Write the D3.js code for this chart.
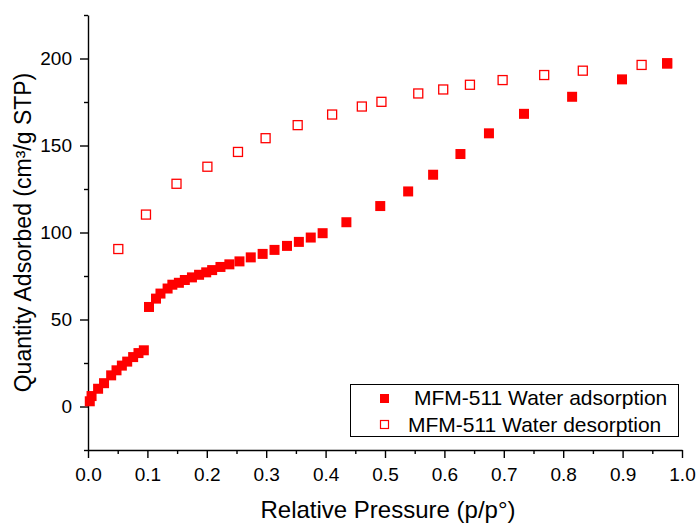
<!DOCTYPE html>
<html>
<head>
<meta charset="utf-8">
<script src="https://cdn.jsdelivr.net/npm/d3@7"></script>
<style>
  body { margin: 0; background: #fff; }
  text { font-family: "Liberation Sans", Arial, sans-serif; fill: #000; }
</style>
</head>
<body>
<div id="plot"></div>
<script>
// Adsorption branch (filled squares)
const adsP = [0.003, 0.006, 0.017, 0.027, 0.039, 0.048, 0.057, 0.066, 0.076, 0.085, 0.094,
  0.1027, 0.1145, 0.122, 0.134, 0.142, 0.153, 0.163, 0.175, 0.187, 0.199, 0.209, 0.223, 0.238,
  0.255, 0.274, 0.294, 0.314, 0.335, 0.355, 0.375, 0.395, 0.435, 0.492, 0.539, 0.581, 0.627,
  0.675, 0.734, 0.815, 0.899, 0.975];
const adsQ = [3, 6, 10.2, 13.4, 17.9, 20.8, 23.5, 25.8, 28.4, 30.7, 32.3,
  57.2, 62.0, 64.9, 67.8, 70.0, 71.1, 72.7, 74.2, 75.7, 77.1, 78.4, 80.2, 81.7,
  83.4, 85.7, 87.7, 90.0, 92.3, 94.6, 97.1, 99.6, 105.9, 115.2, 123.6, 133.2, 145.1,
  157.0, 168.2, 178.0, 188.0, 197.2];

// Desorption branch (open squares)
const desP = [0.975, 0.932, 0.833, 0.768, 0.698, 0.643, 0.598, 0.556, 0.494, 0.461, 0.411,
  0.353, 0.299, 0.2525, 0.201, 0.149, 0.0976, 0.051];
const desQ = [197.2, 196.3, 193.0, 190.5, 187.6, 184.9, 182.2, 179.9, 175.1, 172.4, 167.8,
  161.7, 154.2, 146.3, 137.8, 128.0, 110.3, 90.5];

const xTicks = [0, 0.1, 0.2, 0.3, 0.4, 0.5, 0.6, 0.7, 0.8, 0.9, 1.0];
const yTicks = [0, 50, 100, 150, 200];
const seriesNames = ["MFM-511 Water adsorption", "MFM-511 Water desorption"];

const width = 697;
const height = 523;
const marginTop = 15;
const marginRight = 15;
const marginBottom = 73;
const marginLeft = 88;

const x = d3.scaleLinear()
    .domain([0, 1])
    .range([marginLeft, width - marginRight]);

const y = d3.scaleLinear()
    .domain([-25, 225])
    .range([height - marginBottom, marginTop]);

const svg = d3.select("#plot")
    .append("svg")
    .attr("width", width)
    .attr("height", height)
    .attr("viewBox", [0, 0, width, height]);

// Bottom axis, major + minor ticks
const xMinor = d3.range(0.05, 1, 0.1);
svg.append("g")
    .attr("transform", `translate(0,${height - marginBottom})`)
    .call(d3.axisBottom(x).tickValues(xMinor).tickSize(4).tickFormat(""))
    .call(g => g.select(".domain").remove());
const xAxis = svg.append("g")
    .attr("transform", `translate(0,${height - marginBottom})`)
    .call(d3.axisBottom(x).tickValues(xTicks).tickSize(8).tickSizeOuter(0)
        .tickPadding(10).tickFormat(d3.format(".1f")));
xAxis.selectAll("text").style("font-size", "19px");

// Left axis
const yMinor = [-25, 25, 75, 125, 175, 225];
svg.append("g")
    .attr("transform", `translate(${marginLeft},0)`)
    .call(d3.axisLeft(y).tickValues(yMinor).tickSize(4).tickFormat(""))
    .call(g => g.select(".domain").remove());
const yAxis = svg.append("g")
    .attr("transform", `translate(${marginLeft},0)`)
    .call(d3.axisLeft(y).tickValues(yTicks).tickSize(8).tickSizeOuter(0).tickPadding(8));
yAxis.selectAll("text").style("font-size", "19px");

svg.selectAll(".domain, .tick line").attr("stroke", "#000").attr("stroke-width", 1.4);

// Axis titles
svg.append("text")
    .attr("x", 388)
    .attr("y", 518)
    .attr("text-anchor", "middle")
    .style("font-size", "24px")
    .text("Relative Pressure (p/p°)");

svg.append("text")
    .attr("transform", `translate(31,${(marginTop + height - marginBottom) / 2}) rotate(-90)`)
    .attr("text-anchor", "middle")
    .style("font-size", "23px")
    .text("Quantity Adsorbed (cm³/g STP)");

// Points
const ads = adsP.map((p, i) => [p, adsQ[i]]);
const des = desP.map((p, i) => [p, desQ[i]]);

svg.append("g")
    .selectAll("rect")
    .data(des)
    .join("rect")
    .attr("x", d => x(d[0]) - 4.5)
    .attr("y", d => y(d[1]) - 4.5)
    .attr("width", 9)
    .attr("height", 9)
    .attr("fill", "#fff")
    .attr("stroke", "#ff0000")
    .attr("stroke-width", 1.3);

svg.append("g")
    .selectAll("rect")
    .data(ads)
    .join("rect")
    .attr("x", d => x(d[0]) - 5)
    .attr("y", d => y(d[1]) - 5)
    .attr("width", 10)
    .attr("height", 10)
    .attr("fill", "#ff0000");

// Legend
const legend = svg.append("g");
legend.append("rect")
    .attr("x", 350.5)
    .attr("y", 384.5)
    .attr("width", 328)
    .attr("height", 52)
    .attr("fill", "#fff")
    .attr("stroke", "#000")
    .attr("stroke-width", 1);

legend.append("rect")
    .attr("x", 380).attr("y", 394).attr("width", 9).attr("height", 9)
    .attr("fill", "#ff0000");
legend.append("text")
    .attr("x", 414).attr("y", 405)
    .style("font-size", "21px")
    .text(seriesNames[0]);

legend.append("rect")
    .attr("x", 380.5).attr("y", 420.5).attr("width", 8).attr("height", 8)
    .attr("fill", "#fff").attr("stroke", "#ff0000").attr("stroke-width", 1.2);
legend.append("text")
    .attr("x", 408).attr("y", 431.5)
    .style("font-size", "21px")
    .text(seriesNames[1]);
</script>
</body>
</html>
